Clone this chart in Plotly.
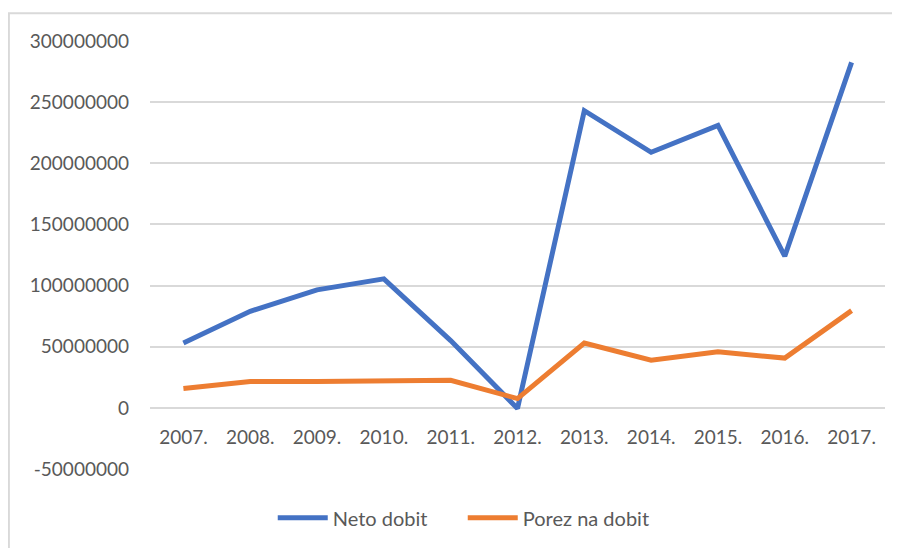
import plotly.graph_objects as go

years = ["2007.", "2008.", "2009.", "2010.", "2011.", "2012.",
         "2013.", "2014.", "2015.", "2016.", "2017."]
neto_dobit = [53000000, 79000000, 96500000, 105500000, 55000000, -500000,
              243000000, 209000000, 231000000, 124000000, 282500000]
porez_na_dobit = [15800000, 21500000, 21500000, 21500000, 22500000, 7600000,
                  53000000, 39000000, 45800000, 40700000, 79500000]

y_ticks = [-50000000, 0, 50000000, 100000000, 150000000,
           200000000, 250000000, 300000000]
y_ticktext = [str(v) for v in y_ticks]

font_family = "Lato, Open Sans, sans-serif"
text_col = "#595959"
grid_col = "#d9d9d9"

fig = go.Figure()
fig.add_trace(go.Scatter(
    x=years, y=neto_dobit, mode="lines", name="Neto dobit",
    line=dict(color="#4472C4", width=5),
))
fig.add_trace(go.Scatter(
    x=years, y=porez_na_dobit, mode="lines", name="Porez na dobit",
    line=dict(color="#ED7D31", width=5),
))

# light frame around the chart area
fig.add_shape(type="rect", xref="paper", yref="paper",
              x0=-0.192, x1=1.03, y0=-0.23, y1=1.065,
              line=dict(color=grid_col, width=2), layer="below")

# page body adds ~8px offset, so the figure is 8px smaller than the window
fig.update_layout(
    width=892, height=540,
    margin=dict(l=142, r=15, t=33, b=79, autoexpand=False),
    paper_bgcolor="white", plot_bgcolor="white",
    font=dict(family=font_family, size=19, color=text_col),
    showlegend=True,
    legend=dict(orientation="h", x=0.167, xanchor="left",
                y=-0.114, yanchor="middle",
                itemwidth=50, entrywidth=125,
                font=dict(size=20, color=text_col),
                bgcolor="rgba(0,0,0,0)"),
    xaxis=dict(
        type="category", range=[-0.5, 10.5],
        anchor="free", position=50 / 350,
        showgrid=False, showline=False, zeroline=False,
        ticks="", ticklabelstandoff=16,
        tickfont=dict(size=19, color=text_col),
    ),
    yaxis=dict(
        range=[-50000000, 300000000], tickvals=y_ticks, ticktext=y_ticktext,
        showgrid=True, gridcolor=grid_col, gridwidth=1.5,
        zeroline=False, showline=False, ticks="",
        ticklabelstandoff=20,
        tickfont=dict(size=19, color=text_col),
    ),
)

fig.write_html("out.html")
